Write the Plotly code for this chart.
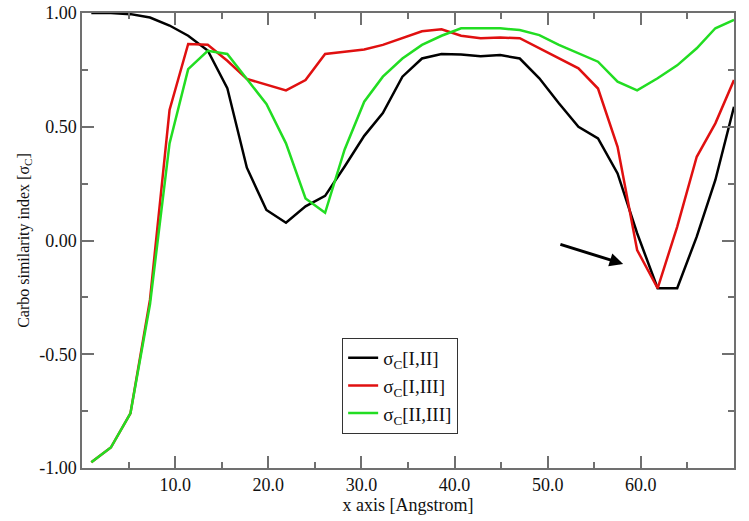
import plotly.graph_objects as go

x_vals = [1.0, 3.1, 5.2, 7.3, 9.4, 11.4, 13.5, 15.6, 17.7, 19.8, 21.9, 24.0, 26.1, 28.2,
          30.3, 32.3, 34.4, 36.5, 38.6, 40.7, 42.8, 44.9, 47.0, 49.1, 51.2, 53.3, 55.4,
          57.5, 59.6, 61.8, 63.9, 66.0, 68.0, 70.0]

sigma_I_II = [1.0, 1.0, 0.995, 0.98, 0.945, 0.90, 0.835, 0.67, 0.32, 0.134, 0.078, 0.15,
              0.196, 0.325, 0.46, 0.56, 0.72, 0.80, 0.82, 0.818, 0.81, 0.815, 0.80, 0.713,
              0.603, 0.50, 0.449, 0.295, 0.032, -0.21, -0.21, 0.017, 0.266, 0.588]

sigma_I_III = [-0.975, -0.91, -0.76, -0.26, 0.574, 0.864, 0.86, 0.79, 0.71, 0.684, 0.66,
               0.705, 0.82, 0.83, 0.84, 0.86, 0.89, 0.92, 0.928, 0.90, 0.889, 0.892, 0.889,
               0.845, 0.80, 0.757, 0.668, 0.412, -0.042, -0.21, 0.06, 0.368, 0.515, 0.705]

sigma_II_III = [-0.975, -0.91, -0.76, -0.28, 0.427, 0.753, 0.834, 0.82, 0.71, 0.60, 0.427,
                0.185, 0.122, 0.40, 0.61, 0.72, 0.80, 0.86, 0.90, 0.933, 0.933, 0.933, 0.925,
                0.903, 0.86, 0.823, 0.786, 0.698, 0.66, 0.713, 0.77, 0.845, 0.933, 0.97]

names = ["σ<sub>C</sub>[I,II]", "σ<sub>C</sub>[I,III]", "σ<sub>C</sub>[II,III]"]
colors = ["#000000", "#e01010", "#22dd22"]

x_ticks = [10, 20, 30, 40, 50, 60]
x_tick_labels = ["10.0", "20.0", "30.0", "40.0", "50.0", "60.0"]
x_minor = [5, 15, 25, 35, 45, 55, 65]
y_ticks = [-1.0, -0.5, 0.0, 0.5, 1.0]
y_tick_labels = ["-1.00", "-0.50", "0.00", "0.50", "1.00"]
y_minor = [-0.75, -0.25, 0.25, 0.75]

font_family = "Liberation Serif, Times New Roman, serif"

fig = go.Figure()
for ys, nm, c in zip([sigma_I_II, sigma_I_III, sigma_II_III], names, colors):
    fig.add_trace(go.Scatter(x=x_vals, y=ys, mode="lines", name=nm,
                             line=dict(color=c, width=2.5)))

fig.add_annotation(x=58.1, y=-0.103, ax=51.2, ay=-0.015, xref="x", yref="y",
                   axref="x", ayref="y", text="", showarrow=True, arrowhead=2,
                   arrowsize=0.9, arrowwidth=3, arrowcolor="#000000")

axis_common = dict(
    showgrid=False, zeroline=False, showline=True, linecolor="#707070", linewidth=1.5,
    ticks="inside", ticklen=12, tickwidth=1.5, tickcolor="#707070", mirror="ticks",
    tickfont=dict(family=font_family, size=18, color="#111"), automargin=False,
)

fig.update_layout(
    template="none",
    width=749, height=521,
    margin=dict(l=82, r=15, t=13, b=53, pad=0),
    paper_bgcolor="white", plot_bgcolor="white",
    font=dict(family=font_family, size=18, color="#111"),
    xaxis=dict(range=[0, 70], tickvals=x_ticks, ticktext=x_tick_labels,
               minor=dict(tickvals=x_minor, ticklen=6, tickcolor="#707070", ticks="inside"),
               title=dict(text="x axis [Angstrom]", font=dict(family=font_family, size=18),
                          standoff=2),
               **axis_common),
    yaxis=dict(range=[-1, 1], tickvals=y_ticks, ticktext=y_tick_labels,
               minor=dict(tickvals=y_minor, ticklen=6, tickcolor="#707070", ticks="inside"),
               title=dict(text="Carbo similarity index [σ<sub>C</sub>]",
                          font=dict(family=font_family, size=16), standoff=6),
               **axis_common),
    legend=dict(x=0.399, y=0.286, xanchor="left", yanchor="top",
                bordercolor="#333", borderwidth=1, bgcolor="white",
                font=dict(family=font_family, size=19, color="#111"),
                tracegroupgap=0, itemwidth=30),
    showlegend=True,
)

fig.write_html("out.html", config={"displayModeBar": False},
               post_script="document.body.style.margin='0px';")
